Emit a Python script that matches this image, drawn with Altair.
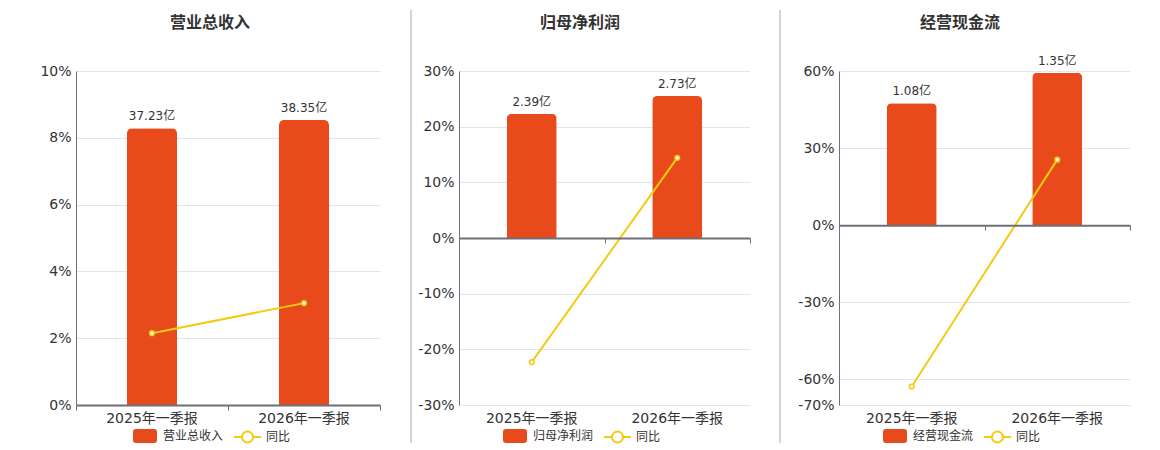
import altair as alt
import pandas as pd

periods = ["2025年一季报", "2026年一季报"]
titles = ["营业总收入", "归母净利润", "经营现金流"]
revenue = [37.23, 38.35]
revenue_yoy = [2.15, 3.05]
profit = [2.39, 2.73]
profit_yoy = [-22.3, 14.4]
cash = [1.08, 1.35]
cash_yoy = [-62.8, 25.5]

ticks1 = [0, 2, 4, 6, 8, 10]
ticks2 = [-30, -20, -10, 0, 10, 20, 30]
ticks3 = [-70, -60, -30, 0, 30, 60]

BAR = "#E84A1C"
YEL = "#F3CB14"
FONT = "DejaVu Sans, Noto Sans CJK SC, sans-serif"
TXT = "#333333"
AX = "#6E7079"
H = 334

RECT_PATH = ("M-0.75,-0.583H0.75Q1,-0.583 1,-0.333V0.333Q1,0.583 0.75,0.583"
             "H-0.75Q-1,0.583 -1,0.333V-0.333Q-1,-0.583 -0.75,-0.583Z")
LINE_PATH = ("M-1,0H-0.41M0.41,0H1M0.41,0A0.41,0.41,0,1,1,-0.41,0"
             "A0.41,0.41,0,1,1,0.41,0")


def panel(name, vals, yoy, width, bar_domain, y_domain, y_ticks,
          title_x, sep_x, legx1, legx2):
    df = pd.DataFrame({
        "period": periods,
        "value": vals,
        "yoy": yoy,
        "label": [f"{v:.2f}亿" for v in vals],
        "series": [name] * len(vals),
        "s2": ["同比"] * len(vals),
    })
    base = alt.Chart(df)
    xscale = alt.Scale(domain=periods, paddingInner=0, paddingOuter=0)
    zero_off = -H * (0 - y_domain[0]) / (y_domain[1] - y_domain[0])
    bscale = alt.Scale(domain=bar_domain, nice=False, zero=False)
    lscale = alt.Scale(domain=y_domain, nice=False, zero=False)

    bars = base.mark_bar(size=50, cornerRadiusTopLeft=5, cornerRadiusTopRight=5,
                         color=BAR).encode(
        x=alt.X("period:N", scale=xscale, sort=periods,
                axis=alt.Axis(orient="bottom", title=None, domain=False, ticks=False,
                              labelAngle=0, labelFontSize=14, labelColor=TXT,
                              labelPadding=6, labelFont=FONT, grid=False)),
        y=alt.Y("value:Q", scale=bscale, axis=None),
        fill=alt.Fill("series:N", scale=alt.Scale(domain=[name], range=[BAR]),
                      legend=alt.Legend(orient="none", legendX=legx1, legendY=353,
                                        title=None, symbolType=RECT_PATH,
                                        symbolSize=576, symbolStrokeWidth=0,
                                        labelFontSize=12, labelColor=TXT,
                                        labelFont=FONT, labelOffset=6, padding=0)),
    )
    labels = base.mark_text(baseline="bottom", dy=-5, fontSize=12, color=TXT,
                            font=FONT).encode(
        x=alt.X("period:N", scale=xscale, sort=periods, axis=None),
        y=alt.Y("value:Q", scale=bscale, axis=None),
        text="label:N",
    )
    line = base.mark_line(strokeWidth=2).encode(
        x=alt.X("period:N", scale=xscale, sort=periods,
                axis=alt.Axis(orient="bottom", offset=zero_off, labels=False,
                              ticks=True, tickSize=5, tickColor=AX, tickWidth=1,
                              domain=True, domainColor=AX, domainWidth=2,
                              tickBand="extent", grid=False, title=None, zindex=1)),
        y=alt.Y("yoy:Q", scale=lscale,
                axis=alt.Axis(orient="left", values=y_ticks,
                              labelExpr="datum.value + '%'", grid=True,
                              gridColor="#E0E6F1", domain=True, domainColor=AX,
                              ticks=False, labelPadding=5, labelFontSize=14,
                              labelColor=TXT, labelFont=FONT, title=None,
                              labelOverlap=False)),
        stroke=alt.Stroke("s2:N", scale=alt.Scale(domain=["同比"], range=[YEL]),
                          legend=alt.Legend(orient="none", legendX=legx2,
                                            legendY=351.5, title=None,
                                            symbolType=LINE_PATH, symbolSize=729,
                                            symbolStrokeWidth=2,
                                            labelFontSize=12, labelColor=TXT,
                                            labelFont=FONT, labelOffset=4,
                                            padding=0)),
    )
    points = base.mark_point(shape="circle", filled=True, fill="white", stroke=YEL,
                             strokeWidth=1.5, size=22, opacity=1).encode(
        x=alt.X("period:N", scale=xscale, sort=periods, axis=None),
        y=alt.Y("yoy:Q", scale=lscale, axis=None),
    )
    title = alt.Chart(pd.DataFrame({"t": [name]})).mark_text(
        fontSize=16, fontWeight="bold", font=FONT, color=TXT).encode(
        text="t:N", x=alt.value(title_x), y=alt.value(-48))
    layers = [bars, labels, line, points, title]
    if sep_x is not None:
        sep = alt.Chart(pd.DataFrame({"a": [0]})).mark_rule(
            color="#A8A8A8", strokeWidth=1).encode(
            x=alt.value(sep_x), y=alt.value(-61), y2=alt.value(372))
        layers.append(sep)
    return alt.layer(*layers).resolve_scale(y="independent").resolve_axis(
        x="independent", y="independent").properties(width=width, height=H)


p1 = panel(titles[0], revenue, revenue_yoy, 304, [0, 44.94], [0, 10], ticks1,
           134, None, 57, 157)
p2 = panel(titles[1], profit, profit_yoy, 291, [-3.21, 3.21], [-30, 30], ticks2,
           121, -48, 44, 144)
p3 = panel(titles[2], cash, cash_yoy, 291, [-1.594, 1.366], [-70, 60], ticks3,
           121, -59, 44, 144)

inner = alt.hconcat(p2, p3, spacing=89, bounds="flush").resolve_scale(
    fill="independent", stroke="independent").resolve_legend(
    fill="independent", stroke="independent")
chart = alt.hconcat(p1, inner, spacing=79, bounds="flush").resolve_scale(
    fill="independent", stroke="independent").resolve_legend(
    fill="independent", stroke="independent").properties(
    padding={"left": 31, "top": 1, "right": 5, "bottom": 5}
).configure_view(stroke=None)

chart.save("out.html", embed_options={"renderer": "svg", "actions": False})
